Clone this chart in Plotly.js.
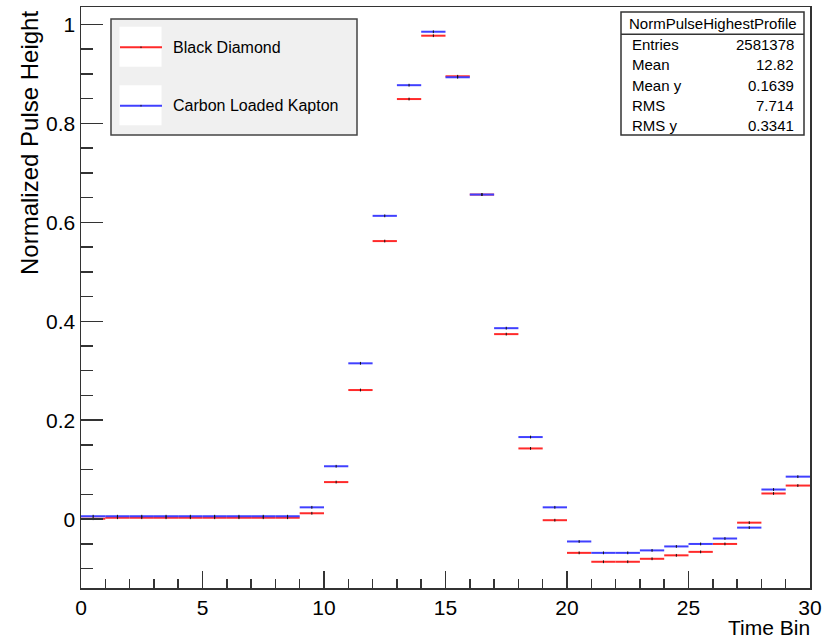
<!DOCTYPE html>
<html>
<head>
<meta charset="utf-8">
<script src="https://cdn.plot.ly/plotly-3.0.1.min.js"></script>
<style>html,body{margin:0;padding:0;background:#fff;}#chart{width:832px;height:640px;}</style>
</head>
<body>
<div id="chart"></div>
<script>
// ---- data ----
const timeBins = [0,1,2,3,4,5,6,7,8,9,10,11,12,13,14,15,16,17,18,19,20,21,22,23,24,25,26,27,28,29];
const blackDiamond = [0.001,0.003,0.003,0.003,0.003,0.003,0.003,0.003,0.003,0.012,
  0.075,0.261,0.562,0.849,0.977,0.895,0.656,0.374,0.143,-0.002,
  -0.068,-0.086,-0.086,-0.080,-0.073,-0.066,-0.050,-0.007,0.052,0.068];
const carbonKapton = [0.006,0.006,0.006,0.006,0.006,0.006,0.006,0.006,0.006,0.024,
  0.107,0.315,0.613,0.877,0.985,0.893,0.656,0.386,0.166,0.024,
  -0.045,-0.068,-0.068,-0.063,-0.055,-0.050,-0.039,-0.017,0.060,0.086];
const seriesNames = ['Black Diamond','Carbon Loaded Kapton'];
const statTitle = 'NormPulseHighestProfile';
const statLabels = ['Entries','Mean','Mean y','RMS','RMS y'];
const statValues = ['2581378','12.82','0.1639','7.714','0.3341'];
const xTitle = 'Time Bin';
const yTitle = 'Normalized Pulse Height';

// ---- helpers ----
const FONT = 'Liberation Sans, Arial, Helvetica, sans-serif';
const RED = '#ff2a2a', BLUE = '#4040ff';
const L = 81, R = 810, T = 7, B = 588;
const X = p => (p - L) / (R - L);
const Y = p => (B - p) / (B - T);

function segments(vals) {
  const x = [], y = [];
  timeBins.forEach((b, i) => { x.push(b, b + 1, null); y.push(vals[i], vals[i], null); });
  return {x, y};
}
const centers = timeBins.map(b => b + 0.5);

const sR = segments(blackDiamond), sB = segments(carbonKapton);
const tick = {symbol: 'line-ns', size: 2, color: '#111', line: {color: '#111', width: 1}};
const traces = [
  {x: sR.x, y: sR.y, mode: 'lines', name: seriesNames[0], line: {color: RED, width: 2}, connectgaps: false, showlegend: false, hoverinfo: 'skip'},
  {x: sB.x, y: sB.y, mode: 'lines', name: seriesNames[1], line: {color: BLUE, width: 2}, connectgaps: false, showlegend: false, hoverinfo: 'skip'},
  {x: centers, y: blackDiamond, mode: 'markers', showlegend: false, marker: tick},
  {x: centers, y: carbonKapton, mode: 'markers', showlegend: false, marker: tick}
];

const shapes = [];
const annotations = [];

// legend (ROOT style)
shapes.push({type: 'rect', xref: 'paper', yref: 'paper', x0: X(111), x1: X(357), y0: Y(19), y1: Y(135), fillcolor: '#f0f0f0', line: {color: '#444', width: 1.5}});
const legRows = [47.3, 105.7], legCols = [RED, BLUE];
legRows.forEach((ry, i) => {
  shapes.push({type: 'rect', xref: 'paper', yref: 'paper', x0: X(119.5), x1: X(161.5), y0: Y(ry - 20.5), y1: Y(ry + 19.5), fillcolor: '#ffffff', line: {width: 0}});
  shapes.push({type: 'line', xref: 'paper', yref: 'paper', x0: X(120), x1: X(162), y0: Y(ry), y1: Y(ry), line: {color: legCols[i], width: 2}});
  shapes.push({type: 'line', xref: 'paper', yref: 'paper', x0: X(141), x1: X(141), y0: Y(ry - 0.8), y1: Y(ry + 0.8), line: {color: '#111', width: 1}});
  annotations.push({xref: 'paper', yref: 'paper', x: X(171), y: Y(ry), xanchor: 'left', yanchor: 'middle', showarrow: false, text: seriesNames[i], font: {family: FONT, size: 16, color: '#000'}});
});

// stats box
shapes.push({type: 'rect', xref: 'paper', yref: 'paper', x0: X(621), x1: X(804), y0: Y(12), y1: Y(135), fillcolor: '#ffffff', line: {color: '#333', width: 1.5}});
shapes.push({type: 'line', xref: 'paper', yref: 'paper', x0: X(621), x1: X(804), y0: Y(34.3), y1: Y(34.3), line: {color: '#333', width: 1.5}});
annotations.push({xref: 'paper', yref: 'paper', x: X(712.5), y: Y(23.3), xanchor: 'center', yanchor: 'middle', showarrow: false, text: statTitle, font: {family: FONT, size: 15, color: '#000'}});
statLabels.forEach((lab, i) => {
  const ry = 44.5 + i * 20.3;
  annotations.push({xref: 'paper', yref: 'paper', x: X(630), y: Y(ry), xanchor: 'left', yanchor: 'middle', showarrow: false, text: lab, font: {family: FONT, size: 15, color: '#000'}});
  annotations.push({xref: 'paper', yref: 'paper', x: X(796), y: Y(ry), xanchor: 'right', yanchor: 'middle', showarrow: false, text: statValues[i], font: {family: FONT, size: 15, color: '#000'}});
});

// axis titles (ROOT aligned)
annotations.push({xref: 'paper', yref: 'paper', x: X(812), y: Y(627), xanchor: 'right', yanchor: 'middle', showarrow: false, text: xTitle, font: {family: FONT, size: 21, color: '#000'}});
annotations.push({xref: 'paper', yref: 'paper', x: X(30), y: Y(9), xanchor: 'center', yanchor: 'top', textangle: -90, showarrow: false, text: yTitle, font: {family: FONT, size: 24, color: '#000'}});

const axisCommon = {
  showline: true, linecolor: '#333', linewidth: 1.5, mirror: true,
  showgrid: false, zeroline: false, ticks: 'inside', tickcolor: '#333', tickwidth: 1.5,
  tickfont: {family: FONT, size: 21, color: '#000'}
};

const layout = {
  width: 832, height: 640,
  margin: {l: L, r: 832 - R, t: T, b: 640 - B, pad: 0},
  paper_bgcolor: '#ffffff', plot_bgcolor: '#ffffff',
  showlegend: false,
  xaxis: Object.assign({}, axisCommon, {range: [0, 30], tick0: 0, dtick: 5, ticklen: 17,
    minor: {dtick: 1, tick0: 0, ticks: 'inside', ticklen: 9, tickcolor: '#333', tickwidth: 1.5}}),
  yaxis: Object.assign({}, axisCommon, {range: [-0.139, 1.035], tick0: 0, dtick: 0.2, ticklen: 22,
    minor: {dtick: 0.05, tick0: 0, ticks: 'inside', ticklen: 12, tickcolor: '#333', tickwidth: 1.5}}),
  shapes: shapes,
  annotations: annotations
};

Plotly.newPlot('chart', traces, layout, {staticPlot: true, displayModeBar: false});
</script>
</body>
</html>
